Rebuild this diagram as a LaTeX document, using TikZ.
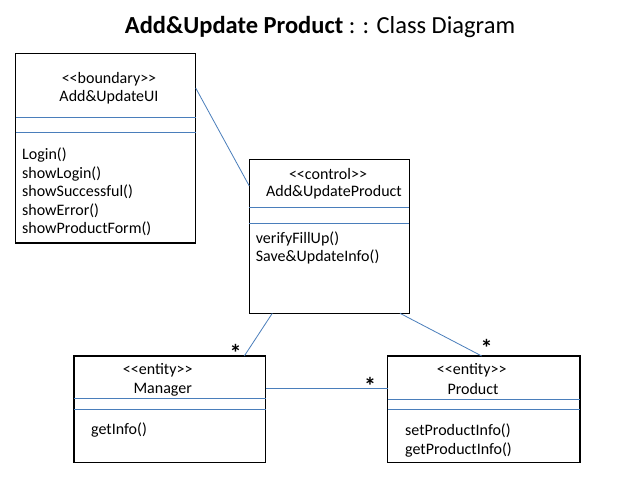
\documentclass[tikz,border=0pt]{standalone}
\usepackage{fontspec}
\setmainfont{Carlito}
\definecolor{lineblue}{HTML}{4A7EBB}
\begin{document}
\begin{tikzpicture}[x=1pt,y=-1pt,
  box/.style={draw=black, line width=1.4pt, anchor=north west, inner sep=0pt, outer sep=0pt},
  divider/.style={draw=lineblue, line width=0.8pt},
  conn/.style={draw=lineblue, line width=0.8pt},
  lbl/.style={font=\fontsize{16}{18.5}\selectfont, inner sep=0pt},
  meth/.style={align=left, anchor=north west, inner sep=0pt, font=\fontsize{16}{18.5}\selectfont},
  star/.style={font=\fontsize{24}{24}\selectfont\bfseries, inner sep=0pt}]
\useasboundingbox (0,0) rectangle (638,479);
\fill[white] (0,0) rectangle (638,479);

% title
\node[font=\fontsize{24.5}{28}\selectfont, inner sep=0pt] (title) at (320,27) {\textbf{Add\&Update Product} : : Class Diagram};

% boxes
\node[box, minimum width=180pt, minimum height=189.7pt] (ui) at (15.7,53.3) {};
\node[box, minimum width=160pt, minimum height=154pt] (ctrl) at (249.3,159.3) {};
\node[box, minimum width=191.7pt, minimum height=106.3pt] (mgr) at (74,356) {};
\node[box, minimum width=192.3pt, minimum height=106.7pt] (prod) at (387.7,356) {};

% dividers
\draw[divider] (ui.west |- 0,117.3) -- (ui.east |- 0,117.3);
\draw[divider] (ui.west |- 0,132.7) -- (ui.east |- 0,132.7);
\draw[divider] (ctrl.west |- 0,207.3) -- (ctrl.east |- 0,207.3);
\draw[divider] (ctrl.west |- 0,223.3) -- (ctrl.east |- 0,223.3);
\draw[divider] (mgr.west |- 0,398.3) -- (mgr.east |- 0,398.3);
\draw[divider] (mgr.west |- 0,409) -- (mgr.east |- 0,409);
\draw[divider] (prod.west |- 0,399) -- (prod.east |- 0,399);
\draw[divider] (prod.west |- 0,409.3) -- (prod.east |- 0,409.3);

% headers
\node[lbl] (uist) at (109,79) {{<}{<}boundary{>}{>}};
\node[lbl] (uinm) at (109,97) {Add\&UpdateUI};
\node[lbl] (ctst) at (328,174) {{<}{<}control{>}{>}};
\node[lbl] (ctnm) at (334,192) {Add\&UpdateProduct};
\node[lbl] (mgst) at (157.7,370) {{<}{<}entity{>}{>}};
\node[lbl] (mgnm) at (162.7,389.3) {Manager};
\node[lbl] (prst) at (471.7,370) {{<}{<}entity{>}{>}};
\node[lbl] (prnm) at (473,389) {Product};

% methods
\node[meth] (uim) at (22,147.6) {Login()\\showLogin()\\showSuccessful()\\showError()\\showProductForm()};
\node[meth] (ctm) at (255.7,231.2) {verifyFillUp()\\Save\&UpdateInfo()};
\node[meth] (mgm) at (91,422.2) {getInfo()};
\node[meth] (prm) at (405,423.7) {setProductInfo()\\getProductInfo()};

% connectors
\draw[conn] (ui.east |- 0,88) -- (ctrl.west |- 0,186);
\draw[conn] (ctrl.south -| 272.3,0) -- (mgr.north -| 244.3,0);
\draw[conn] (ctrl.south -| 400,0) -- (prod.north -| 481.7,0);
\draw[conn] (mgr.east |- 0,388.3) -- (prod.west |- 0,388.3);

% multiplicities
\node[star] (s1) at (235.7,353.2) {*};
\node[star] (s2) at (370,385.9) {*};
\node[star] (s3) at (486.7,347.5) {*};
\end{tikzpicture}
\end{document}
